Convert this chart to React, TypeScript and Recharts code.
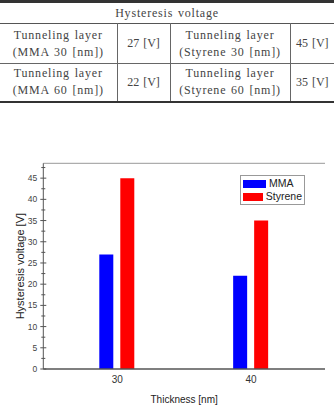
import React from 'react';
import { BarChart, Bar, XAxis, YAxis, Legend, ReferenceLine } from 'recharts';

// chart values
const thickness = ['30', '40'];
const mmaVoltage = [27, 22];
const styreneVoltage = [45, 35];
const yMax = 48.5;
const yMajorTicks = [0, 5, 10, 15, 20, 25, 30, 35, 40, 45];
const yMinorTicks = [2.5, 7.5, 12.5, 17.5, 22.5, 27.5, 32.5, 37.5, 42.5, 47.5];

// summary table rows
const tableThickness = [30, 60];
const tableTitle = 'Hysteresis voltage';
const layerLabel = 'Tunneling layer';

const data = thickness.map((t, i) => ({
  thickness: t,
  MMA: mmaVoltage[i],
  Styrene: styreneVoltage[i],
}));

const sans = '"Liberation Sans", Arial, sans-serif';
const serif = '"Liberation Serif", "Times New Roman", serif';

const cell: React.CSSProperties = {
  borderLeft: '1px solid #666',
  borderRight: '1px solid #666',
  textAlign: 'center',
  verticalAlign: 'middle',
  padding: 0,
  lineHeight: '17px',
};

// ticks cross the axis line; only the major ones get a label
const YTick = (props: any) => {
  const { x, y, payload } = props;
  const axisX = x + 6;
  const major = yMajorTicks.includes(payload.value);
  const half = major ? 3 : 2;
  return (
    <g>
      <line x1={axisX - half} x2={axisX + half} y1={y} y2={y} stroke="#555" />
      {major && (
        <text x={x} y={y} dy={3} textAnchor="end" fontSize={8.5} fontFamily={sans} fill="#444">
          {payload.value}
        </text>
      )}
    </g>
  );
};

const LegendBox = (props: any) => (
  <div style={{ border: '1px solid #999', background: '#fff', padding: '1px 2px 1px 2px', width: 59 }}>
    {(props.payload || []).map((item: any) => (
      <div key={item.value} style={{ display: 'flex', alignItems: 'center', height: 13 }}>
        <span style={{ display: 'inline-block', width: 23, height: 8, background: item.color, marginRight: 3 }} />
        <span style={{ fontSize: 10.5, fontFamily: sans, color: '#222', lineHeight: '13px' }}>{item.value}</span>
      </div>
    ))}
  </div>
);

const SummaryTable = () => (
  <table
    style={{
      position: 'absolute',
      left: 0,
      top: 0,
      width: 334,
      borderCollapse: 'collapse',
      fontFamily: serif,
      fontSize: 12,
      letterSpacing: 0.8,
      wordSpacing: 1,
      color: '#444',
      tableLayout: 'fixed',
    }}
  >
    <colgroup>
      <col style={{ width: 117 }} />
      <col style={{ width: 53 }} />
      <col style={{ width: 120 }} />
      <col style={{ width: 44 }} />
    </colgroup>
    <tbody>
      <tr style={{ height: 22, borderTop: '3px solid #333', borderBottom: '1px solid #555' }}>
        <td colSpan={4} style={{ ...cell, borderLeft: 'none', borderRight: 'none' }}>{tableTitle}</td>
      </tr>
      {tableThickness.map((t, i) => (
        <tr
          key={t}
          style={{
            height: i === 0 ? 40 : 38,
            borderBottom: i === tableThickness.length - 1 ? '2px solid #333' : '1px solid #666',
          }}
        >
          <td style={{ ...cell, borderLeft: 'none' }}>
            {layerLabel}
            <br />
            (MMA {t} [nm])
          </td>
          <td style={{ ...cell, letterSpacing: 0 }}>{mmaVoltage[i]} [V]</td>
          <td style={cell}>
            {layerLabel}
            <br />
            (Styrene {t} [nm])
          </td>
          <td style={{ ...cell, borderRight: 'none', letterSpacing: 0 }}>{styreneVoltage[i]} [V]</td>
        </tr>
      ))}
    </tbody>
  </table>
);

export default function App() {
  return (
    <div style={{ position: 'absolute', left: 0, top: 0, width: 334, height: 413, background: '#fff' }}>
      <SummaryTable />
      <div style={{ position: 'absolute', left: 0, top: 150 }}>
        <BarChart
          width={334}
          height={263}
          data={data}
          margin={{ top: 13.3, right: 9, bottom: 0, left: 0 }}
          barSize={14}
          barGap={7}
        >
          <XAxis
            dataKey="thickness"
            padding={{ left: 7, right: 7 }}
            height={44}
            axisLine={{ stroke: '#555', strokeWidth: 1.5 }}
            tickLine={false}
            tickSize={6}
            tickMargin={1}
            tick={{ fontSize: 10, fontFamily: sans, fill: '#333' }}
            label={{
              value: 'Thickness [nm]',
              position: 'insideBottom',
              offset: 10,
              style: { fontSize: 10, fontFamily: sans, fill: '#222' },
            }}
          />
          <YAxis
            domain={[0, yMax]}
            ticks={[...yMajorTicks, ...yMinorTicks].sort((a, b) => a - b)}
            interval={0}
            width={43.3}
            axisLine={{ stroke: '#555' }}
            tickLine={{ stroke: 'none' }}
            tickSize={4}
            tickMargin={2}
            tick={<YTick />}
            allowDecimals
            label={{
              value: 'Hysteresis voltage [V]',
              angle: -90,
              position: 'insideLeft',
              offset: 20,
              style: { fontSize: 11, fontFamily: sans, fill: '#222', textAnchor: 'middle' },
            }}
          />
          <YAxis yAxisId="right" orientation="right" width={0} tick={false} tickLine={false} axisLine={{ stroke: '#666', strokeWidth: 1.5 }} />
          {/* top edge of the frame */}
          <ReferenceLine y={yMax} stroke="#999" ifOverflow="visible" />
          <Legend
            layout="horizontal"
            verticalAlign="middle"
            align="center"
            content={<LegendBox />}
            wrapperStyle={{ left: 240, top: 25, width: 64, height: 'auto' }}
          />
          <Bar dataKey="MMA" fill="#0000ff" isAnimationActive={false} />
          <Bar dataKey="Styrene" fill="#ff0000" isAnimationActive={false} />
        </BarChart>
      </div>
    </div>
  );
}
